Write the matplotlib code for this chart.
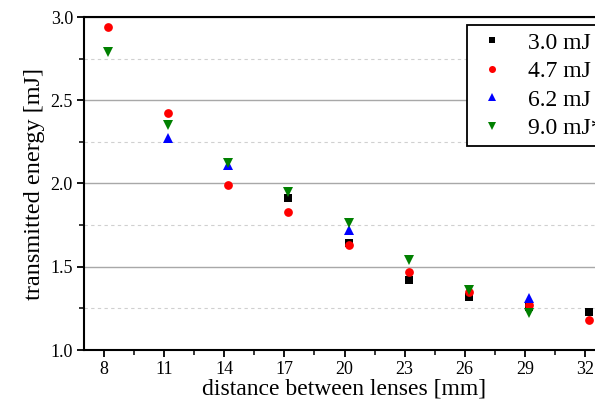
import matplotlib
matplotlib.use("Agg")
import matplotlib.pyplot as plt
import numpy as np

plt.rcParams["font.family"] = "Liberation Serif"
plt.rcParams["mathtext.fontset"] = "stix"

## distance between lenses (points sit slightly right of the ticks)
distance = [8.2, 11.2, 14.2, 17.2, 20.2, 23.2, 26.2, 29.2, 32.2]

## transmitted energy per input energy, nan where no point is shown
e_30 = [np.nan, np.nan, np.nan, 1.91, 1.64, 1.42, 1.32, 1.26, 1.23]
e_47 = [2.94, 2.42, 1.99, 1.83, 1.63, 1.47, 1.35, 1.27, 1.18]
e_62 = [np.nan, 2.27, 2.11, np.nan, 1.72, np.nan, np.nan, 1.31, np.nan]
e_90 = [2.79, 2.35, 2.12, 1.95, 1.76, 1.54, 1.36, 1.22, np.nan]

labels = ["3.0 mJ", "4.7 mJ", "6.2 mJ", "9.0 mJ*"]
x_ticks = [8, 11, 14, 17, 20, 23, 26, 29, 32]
y_ticks = [1.0, 1.5, 2.0, 2.5, 3.0]

fig = plt.figure(figsize=(5.95, 4.061), dpi=100)
ax = fig.add_axes([84/595, 1 - 350/406, 521/595, 333/406])

ax.plot(distance, e_30, "s", color="black", ms=5.5, mew=0, label=labels[0])
ax.plot(distance, e_47, "o", color="red", ms=6.3, mew=0, label=labels[1])
ax.plot(distance, e_62, "^", color="blue", ms=7.5, mew=0, label=labels[2])
ax.plot(distance, e_90, "v", color="green", ms=7.5, mew=0, label=labels[3])

ax.set_xlim(7, 33)
ax.set_ylim(1.0, 3.0)
ax.set_xticks(x_ticks)
ax.set_xticks(np.arange(9.5, 33, 3), minor=True)
ax.set_yticks(y_ticks)
ax.set_yticks([1.25, 1.75, 2.25, 2.75], minor=True)
ax.set_yticklabels(["%.1f" % v for v in y_ticks])

ax.grid(which="major", axis="y", color="#a8a8a8", linewidth=1.0)
ax.grid(which="minor", axis="y", color="#d0d0d0", linewidth=0.8, linestyle=(0, (3, 3)))
ax.set_axisbelow(True)

for side in ["top", "bottom", "left", "right"]:
	ax.spines[side].set_linewidth(1.5)
ax.tick_params(which="major", direction="out", length=5, width=1.3, labelsize=13, pad=3)
ax.tick_params(which="minor", direction="out", length=3.5, width=1.1)

ax.set_xlabel("distance between lenses [mm]", fontsize=17, labelpad=0)
ax.set_ylabel("transmitted energy [mJ]", fontsize=17.5, labelpad=4)

## legend box runs past the right edge of the picture, as in the original figure
leg = fig.legend(loc="upper left", bbox_to_anchor=(467/595, 1 - 25/406), fontsize=17,
	frameon=True, fancybox=False, edgecolor="black", framealpha=1, markerscale=0.8,
	handletextpad=0.8, labelspacing=0.3, borderaxespad=0, borderpad=0.3, handlelength=1.5)
leg.get_frame().set_linewidth(1.3)

fig.savefig("out.png", dpi=100)
